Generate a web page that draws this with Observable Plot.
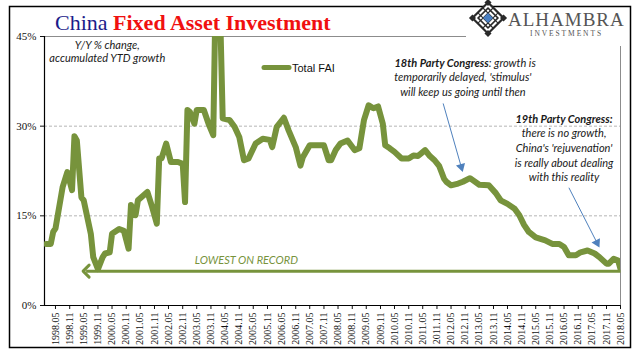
<!DOCTYPE html>
<html><head><meta charset="utf-8">
<script src="https://cdn.jsdelivr.net/npm/d3@7"></script>
<script src="https://cdn.jsdelivr.net/npm/@observablehq/plot@0.6"></script>
<style>
html,body{margin:0;padding:0;background:#fff;}
#wrap{position:relative;width:641px;height:361px;overflow:hidden;}
#chart svg{display:block}
.ov{position:absolute;left:0;top:0;pointer-events:none}
</style></head><body>
<div id="wrap"><div id="chart"></div>
<svg class="ov" width="641" height="361">
  <rect x="9.5" y="6.5" width="621" height="341" fill="none" stroke="#000" stroke-width="1.5"/>
  <rect x="466" y="8" width="162" height="38" fill="#fff"/>
  <g transform="translate(488,18) rotate(45)">
    <rect x="-11" y="-11" width="22" height="22" fill="#fff" stroke="#2a2a2a" stroke-width="2.2"/>
    <rect x="-13.5" y="-13.5" width="5" height="5" fill="#2a2a2a"/>
    <rect x="8.5" y="-13.5" width="5" height="5" fill="#2a2a2a"/>
    <rect x="-13.5" y="8.5" width="5" height="5" fill="#2a2a2a"/>
    <rect x="8.5" y="8.5" width="5" height="5" fill="#2a2a2a"/>
    <rect x="-7" y="-7" width="14" height="14" fill="none" stroke="#2a2a2a" stroke-width="1.6"/>
    <path d="M-11,-3.5H11M-11,3.5H11M-3.5,-11V11M3.5,-11V11" stroke="#2a2a2a" stroke-width="1.1"/>
    <rect x="-3.5" y="-3.5" width="7" height="7" fill="#4a7fc1"/>
  </g>
  <text x="508" y="26" font-family="Liberation Serif" font-size="19" fill="#555" letter-spacing="1">ALHAMBRA</text>
  <text x="530" y="35.5" font-family="Liberation Serif" font-size="7.5" fill="#555" letter-spacing="1.9">INVESTMENTS</text>
  <text x="55" y="30" font-family="Liberation Serif" font-size="22"><tspan fill="#1c1c8a">China </tspan><tspan fill="#f01010" font-weight="bold">Fixed Asset Investment</tspan></text>
  <line x1="264" x2="289" y1="67.5" y2="67.5" stroke="#77933c" stroke-width="5" stroke-linecap="round"/>
  <text x="292" y="71.5" font-family="Liberation Sans" font-size="11" fill="#111">Total FAI</text>
</svg>
</div>
<script>
const months = ["1998-01","1998-03","1998-04","1998-05","1998-08","1998-10","1998-12","1999-01","1999-02","1999-04","1999-05","1999-08","1999-09","1999-11",
"2000-01","2000-02","2000-04","2000-05","2000-08","2000-10","2000-12","2001-01","2001-03","2001-04","2001-08","2001-10","2001-12",
"2002-01","2002-02","2002-04","2002-06","2002-09","2002-11","2002-12","2003-01","2003-02","2003-04","2003-05","2003-08","2003-10","2003-12",
"2004-01","2004-02","2004-03","2004-04","2004-07","2004-09","2004-11","2005-01","2005-03","2005-06","2005-09","2005-12",
"2006-01","2006-03","2006-06","2006-08","2006-11","2007-01","2007-02","2007-05","2007-08","2007-11",
"2008-01","2008-02","2008-04","2008-06","2008-09","2008-12","2009-02","2009-04","2009-06","2009-08","2009-10","2009-12",
"2010-01","2010-03","2010-05","2010-08","2010-11","2011-01","2011-03","2011-06","2011-08","2011-10","2011-12",
"2012-02","2012-03","2012-05","2012-08","2012-10","2013-01","2013-05","2013-09","2013-12",
"2014-02","2014-05","2014-08","2014-10","2014-12","2015-02","2015-05","2015-09","2015-12",
"2016-03","2016-05","2016-07","2016-10","2016-12","2017-03","2017-06","2017-08","2017-11","2017-12","2018-02","2018-04","2018-05"];
const totalFAI = [10.3,10.3,12.3,12.9,19.8,22.3,19.3,28.3,27.6,18.1,17.6,12.0,8.1,6.1,
8.1,8.7,8.9,12.0,12.8,12.5,9.5,16.8,15.1,17.6,19.0,16.5,13.7,
24.6,24.6,27.1,24.0,24.0,23.7,17.3,32.7,32.4,30.4,32.7,32.7,30.4,28.5,
53.0,53.0,47.8,31.3,31.0,29.9,28.2,24.3,24.6,27.1,27.9,27.7,
26.5,29.9,31.4,29.3,26.5,23.4,24.8,26.8,26.8,26.8,
24.3,24.3,26.0,27.1,27.6,26.0,26.3,31.0,33.5,33.0,33.3,30.4,
26.8,26.3,25.7,24.6,24.6,25.1,25.0,26.0,25.0,24.3,23.3,
21.2,20.7,20.1,20.4,20.7,21.3,20.2,20.1,18.8,
17.6,17.0,16.2,15.1,13.5,12.3,11.4,10.9,10.3,
10.3,9.8,8.4,8.4,8.9,9.2,8.7,8.1,7.0,7.0,7.8,7.5,6.1];
const tickLabels = ["1998.05","1998.11","1999.05","1999.11","2000.05","2000.11","2001.05","2001.11","2002.05","2002.11",
"2003.05","2003.11","2004.05","2004.11","2005.05","2005.11","2006.05","2006.11","2007.05","2007.11",
"2008.05","2008.11","2009.05","2009.11","2010.05","2010.11","2011.05","2011.11","2012.05","2012.11",
"2013.05","2013.11","2014.05","2014.11","2015.05","2015.11","2016.05","2016.11","2017.05","2017.11","2018.05"];
const yTicks = [0,15,30,45];
const lowestArrow = [{from:"2018-05", to:"1999-06", value:5.75}];
const notes = [
  {date:"2000-03", value:43.5, text:"Y/Y % change,", anchor:"middle", weight:"normal"},
  {date:"2000-03", value:41.3, text:"accumulated YTD growth", anchor:"middle", weight:"normal"},
  {date:"2013-09", value:40.5, text:"18th Party Congress", anchor:"end", weight:"bold"},
  {date:"2013-09", value:40.5, text:": growth is", anchor:"start", weight:"normal"},
  {date:"2012-10", value:38.1, text:"temporarily delayed, 'stimulus'", anchor:"middle", weight:"normal"},
  {date:"2012-10", value:35.6, text:"will keep us going until then", anchor:"middle", weight:"normal"},
  {date:"2016-05", value:31.2, text:"19th Party Congress:", anchor:"middle", weight:"bold"},
  {date:"2016-05", value:28.7, text:"there is no growth,", anchor:"middle", weight:"normal"},
  {date:"2016-05", value:26.2, text:"China's 'rejuvenation'", anchor:"middle", weight:"normal"},
  {date:"2016-05", value:23.8, text:"is really about dealing", anchor:"middle", weight:"normal"},
  {date:"2016-05", value:21.4, text:"with this reality", anchor:"middle", weight:"normal"}
];
const lowestLabel = [{date:"2005-02", value:7.5, text:"LOWEST ON RECORD"}];
const noteArrows = [
  {from:"2012-01-20", fromValue:33.8, to:"2012-09-10", toValue:23.2},
  {from:"2016-07-03", fromValue:19.7, to:"2017-07-01", toValue:10.5}
];

const parse = d3.utcParse("%Y-%m");
const parseDay = s => s.length > 7 ? d3.utcParse("%Y-%m-%d")(s) : parse(s);
const data = months.map((m,i)=>({date: parse(m), value: totalFAI[i]}));
const ticks = tickLabels.map(d3.utcParse("%Y.%m"));
const x0 = new Date(Date.UTC(1997,11,10)), x1 = parse("2018-05");
const green = "#77933c", blue = "#4f81bd";
const W=641,H=361,ML=44,MR=21,MT=36,MB=56;
const sx = d3.scaleUtc([x0,x1],[ML,W-MR]), sy = d3.scaleLinear([0,45],[H-MB,MT]);
const arrows = noteArrows.map(a=>{
  const f=parseDay(a.from), t=parseDay(a.to);
  const dx = sx(t)-sx(f), dy = sy(a.toValue)-sy(a.fromValue);
  return {x1:f, y1:a.fromValue, x2:t, y2:a.toValue, rot: Math.atan2(dx,-dy)*180/Math.PI};
});
const noteData = notes.map(n=>({...n, date: parse(n.date)}));
const textOpts = {x:"date", y:"value", text:"text", fontFamily:"Lato", fontStyle:"italic", fontSize:11, fill:"#1a1a1a"};

const plot = Plot.plot({
  width:W, height:H, marginLeft:ML, marginRight:MR, marginTop:MT, marginBottom:MB,
  style:{fontFamily:"Liberation Serif", background:"transparent", color:"#111"},
  x:{type:"utc", domain:[x0,x1]},
  y:{domain:[0,45]},
  marks:[
    Plot.ruleY([15,30],{stroke:"#b5b5b5", strokeDasharray:"3,2"}),
    Plot.ruleY([45],{stroke:"#8c8c8c"}),
    Plot.ruleX([x1],{stroke:"#8c8c8c"}),
    Plot.axisX({ticks, tickFormat:d3.utcFormat("%Y.%m"), tickRotate:-90, tickSize:4, tickPadding:3, fontSize:10, label:null}),
    Plot.axisY({ticks:yTicks, tickFormat:d=>d+"%", tickSize:4, tickPadding:4, fontSize:11, label:null}),
    Plot.ruleX([x0],{stroke:"#000", strokeWidth:1.2}),
    Plot.ruleY([0],{stroke:"#000", strokeWidth:1.2}),
    Plot.line(data,{x:"date", y:"value", stroke:green, strokeWidth:6, strokeLinejoin:"round", strokeLinecap:"round", clip:true}),
    Plot.link(lowestArrow,{x1:d=>parse(d.from), y1:"value", x2:d=>parse(d.to), y2:"value", stroke:green, strokeWidth:3, markerEnd:"arrow"}),
    Plot.text(lowestLabel,{x:d=>parse(d.date), y:"value", text:"text", fontFamily:"Lato", fontStyle:"italic", fontSize:11, fill:green}),
    Plot.link(arrows,{x1:"x1", y1:"y1", x2:"x2", y2:"y2", stroke:blue, strokeWidth:1}),
    Plot.dot(arrows,{x:"x2", y:"y2", symbol:"triangle", r:3.5, fill:blue, stroke:null, rotate:"rot"}),
    Plot.text(noteData.filter(d=>d.weight==="normal"&&d.anchor==="middle"), {...textOpts}),
    Plot.text(noteData.filter(d=>d.weight==="bold"&&d.anchor==="middle"), {...textOpts, fontWeight:"bold"}),
    Plot.text(noteData.filter(d=>d.anchor==="end"), {...textOpts, fontWeight:"bold", textAnchor:"end"}),
    Plot.text(noteData.filter(d=>d.anchor==="start"), {...textOpts, textAnchor:"start"})
  ]
});
document.getElementById("chart").appendChild(plot);
</script>
</body></html>
